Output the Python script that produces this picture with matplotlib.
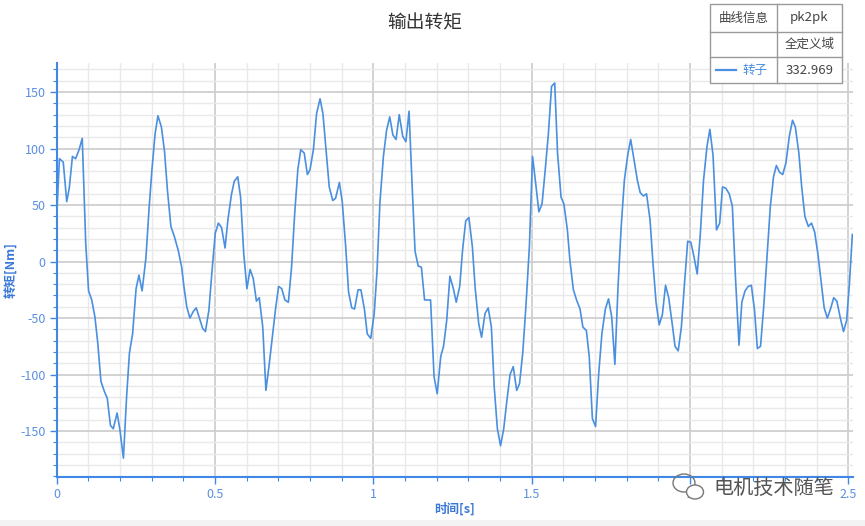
import matplotlib
matplotlib.use("Agg")
import matplotlib.pyplot as plt
from matplotlib.patches import Rectangle, Ellipse
from matplotlib.lines import Line2D
from matplotlib.ticker import MultipleLocator, FixedLocator

plt.rcParams['font.family'] = ['Noto Sans CJK SC', 'DejaVu Sans']

title = "输出转矩"
x_label = "时间[s]"
y_label = "转矩[Nm]"
series_name = "转子"
table_header = ["曲线信息", "pk2pk"]
table_sub = ["", "全定义域"]
pk2pk_value = "332.969"
watermark = "电机技术随笔"

x_ticks = [0, 0.5, 1, 1.5, 2, 2.5]
x_tick_labels = ["0", "0.5", "1", "1.5", "2", "2.5"]
y_ticks = [-150, -100, -50, 0, 50, 100, 150]
y_tick_labels = ["-150", "-100", "-50", "0", "50", "100", "150"]

times = [
    0.000, 0.009, 0.021, 0.032, 0.040, 0.050, 0.060, 0.071, 0.081, 0.092,
    0.101, 0.111, 0.121, 0.130, 0.140, 0.151, 0.160, 0.170, 0.179, 0.191,
    0.200, 0.211, 0.221, 0.230, 0.240, 0.251, 0.260, 0.270, 0.282, 0.292,
    0.301, 0.311, 0.320, 0.331, 0.341, 0.350, 0.361, 0.372, 0.384, 0.395,
    0.402, 0.411, 0.421, 0.432, 0.441, 0.451, 0.461, 0.470, 0.481, 0.490,
    0.501, 0.511, 0.521, 0.532, 0.541, 0.552, 0.561, 0.572, 0.581, 0.591,
    0.601, 0.611, 0.621, 0.631, 0.640, 0.651, 0.661, 0.671, 0.680, 0.691,
    0.701, 0.711, 0.721, 0.732, 0.742, 0.752, 0.762, 0.771, 0.782, 0.792,
    0.800, 0.811, 0.821, 0.832, 0.841, 0.851, 0.861, 0.872, 0.881, 0.893,
    0.902, 0.913, 0.922, 0.932, 0.941, 0.952, 0.961, 0.972, 0.981, 0.992,
    1.003, 1.012, 1.021, 1.032, 1.042, 1.052, 1.062, 1.072, 1.082, 1.093,
    1.103, 1.113, 1.122, 1.132, 1.142, 1.152, 1.162, 1.172, 1.181, 1.192,
    1.202, 1.213, 1.222, 1.232, 1.242, 1.253, 1.262, 1.273, 1.282, 1.292,
    1.302, 1.313, 1.322, 1.333, 1.342, 1.353, 1.363, 1.373, 1.382, 1.392,
    1.402, 1.412, 1.422, 1.432, 1.442, 1.453, 1.462, 1.472, 1.482, 1.493,
    1.503, 1.513, 1.523, 1.533, 1.543, 1.553, 1.563, 1.573, 1.582, 1.593,
    1.602, 1.613, 1.621, 1.632, 1.642, 1.653, 1.662, 1.673, 1.682, 1.692,
    1.702, 1.712, 1.722, 1.733, 1.743, 1.753, 1.763, 1.773, 1.783, 1.793,
    1.804, 1.813, 1.823, 1.834, 1.843, 1.853, 1.863, 1.874, 1.883, 1.893,
    1.903, 1.913, 1.923, 1.933, 1.944, 1.953, 1.963, 1.973, 1.983, 1.993,
    2.003, 2.013, 2.023, 2.033, 2.043, 2.054, 2.063, 2.073, 2.084, 2.094,
    2.103, 2.113, 2.124, 2.134, 2.144, 2.155, 2.164, 2.174, 2.184, 2.194,
    2.204, 2.213, 2.223, 2.233, 2.243, 2.254, 2.264, 2.273, 2.283, 2.293,
    2.303, 2.314, 2.324, 2.333, 2.344, 2.353, 2.363, 2.374, 2.384, 2.394,
    2.404, 2.415, 2.424, 2.434, 2.445, 2.454, 2.464, 2.475, 2.485, 2.495,
    2.504, 2.513,
]
torque = [
    38, 91, 88, 53, 65, 93, 91, 99, 109, 16,
    -26, -34, -49, -72, -106, -115, -121, -145, -148, -134,
    -149, -174, -120, -81, -64, -24, -12, -26, 3, 47,
    81, 113, 129, 119, 97, 63, 31, 22, 10, -5,
    -22, -40, -50, -44, -41, -50, -59, -62, -43, -11,
    25, 34, 30, 12, 37, 59, 71, 75, 57, 7,
    -24, -7, -15, -35, -32, -58, -114, -92, -70, -43,
    -22, -24, -34, -36, -5, 43, 82, 99, 96, 77,
    81, 99, 131, 144, 131, 99, 66, 54, 56, 70,
    53, 13, -27, -41, -42, -25, -25, -42, -64, -68,
    -46, -8, 52, 93, 116, 128, 112, 108, 130, 111,
    106, 133, 72, 9, -4, -5, -34, -34, -34, -102,
    -117, -84, -75, -52, -13, -24, -36, -22, 10, 36,
    39, 13, -24, -55, -67, -46, -41, -58, -111, -148,
    -163, -148, -123, -100, -93, -114, -108, -81, -40, 13,
    93, 69, 44, 51, 81, 113, 155, 158, 96, 57,
    51, 28, 1, -25, -34, -42, -58, -61, -84, -139,
    -146, -99, -64, -42, -33, -49, -91, -22, 31, 72,
    95, 108, 91, 72, 61, 58, 60, 37, 0, -36,
    -56, -47, -21, -32, -55, -75, -79, -58, -19, 18,
    17, 4, -11, 25, 72, 102, 117, 94, 28, 34,
    66, 65, 60, 49, -15, -74, -36, -26, -22, -21,
    -43, -77, -75, -40, 2, 49, 75, 85, 79, 77,
    87, 111, 125, 119, 96, 66, 40, 31, 34, 26,
    7, -19, -41, -50, -41, -32, -35, -50, -62, -52,
    -18, 24,
]

W, H = 865, 526
fig = plt.figure(figsize=(W / 100, H / 100), dpi=100)
fig.patch.set_facecolor("white")

# light bottom strip
fig.add_artist(Rectangle((0, 0), 1, 6 / H, transform=fig.transFigure,
                         facecolor="#f3f3f3", edgecolor="none", zorder=0))

left, right, top, bottom = 56.6, 853, 63, 476.7
ax = fig.add_axes([left / W, 1 - bottom / H, (right - left) / W, (bottom - top) / H])

line_color = "#4a8fe0"
axis_color = "#3f88e6"
tick_color = "#5b8fe0"

ax.plot(times, torque, color=line_color, lw=1.2, zorder=3)

ax.set_xlim(0, 2.515)
ax.set_ylim(-190.4, 175.7)

ax.xaxis.set_major_locator(FixedLocator(x_ticks))
ax.set_xticklabels(x_tick_labels)
ax.xaxis.set_minor_locator(MultipleLocator(0.1))
ax.yaxis.set_major_locator(FixedLocator(y_ticks))
ax.set_yticklabels(y_tick_labels)
ax.yaxis.set_minor_locator(MultipleLocator(10))

ax.grid(which="major", color="#cfcfcf", lw=1.3, zorder=1)
ax.grid(which="minor", color="#e9e9e9", lw=1.0, zorder=0.5)
ax.set_axisbelow(True)

for s in ["top", "right"]:
    ax.spines[s].set_visible(False)
for s in ["left", "bottom"]:
    ax.spines[s].set_color(axis_color)
    ax.spines[s].set_linewidth(1.5)

ax.tick_params(axis="both", which="major", colors=axis_color, length=5, width=1,
               labelcolor=tick_color, labelsize=9)
ax.tick_params(axis="both", which="minor", colors=axis_color, length=3, width=0.8)
ax.tick_params(axis="x", pad=3)
ax.tick_params(axis="y", pad=3)

ax.set_xlabel(x_label, color="#3a78d8", fontsize=9, fontweight="bold", labelpad=1)
ax.set_ylabel(y_label, color="#3a78d8", fontsize=9, fontweight="bold", labelpad=1)

fig.text(425 / W, 1 - 23 / H, title, ha="center", va="center", fontsize=13.5, color="#333333")

# info table (top right)
def fx(px):
    return px / W

def fy(py):
    return 1 - py / H

tx0, tx1, txm = 710, 842, 777
ty0, ty1, tym1, tym2 = 4.3, 83.3, 31.7, 57.3
fig.add_artist(Rectangle((fx(tx0), fy(ty1)), fx(tx1) - fx(tx0), fy(ty0) - fy(ty1),
                         transform=fig.transFigure, facecolor="white",
                         edgecolor="#9a9a9a", lw=1.0, zorder=5))
for yy in [tym1, tym2]:
    fig.add_artist(Line2D([fx(tx0), fx(tx1)], [fy(yy), fy(yy)], transform=fig.transFigure,
                          color="#9a9a9a", lw=1.0, zorder=6))
fig.add_artist(Line2D([fx(txm), fx(txm)], [fy(ty0), fy(ty1)], transform=fig.transFigure,
                      color="#9a9a9a", lw=1.0, zorder=6))

c1 = (tx0 + txm) / 2
c2 = (txm + tx1) / 2
r1 = (ty0 + tym1) / 2
r2 = (tym1 + tym2) / 2
r3 = (tym2 + ty1) / 2
tcol = "#444444"
fig.text(fx(c1), fy(r1), table_header[0], ha="center", va="center", fontsize=9, color=tcol, zorder=7)
fig.text(fx(c2), fy(r1), table_header[1], ha="center", va="center", fontsize=9.5, color=tcol, zorder=7)
fig.text(fx(c2), fy(r2), table_sub[1], ha="center", va="center", fontsize=9, color=tcol, zorder=7)
fig.add_artist(Line2D([fx(716), fx(736)], [fy(r3), fy(r3)], transform=fig.transFigure,
                      color=line_color, lw=1.6, zorder=7))
fig.text(fx(742), fy(r3), series_name, ha="left", va="center", fontsize=9, color=line_color, zorder=7)
fig.text(fx(c2), fy(r3), pk2pk_value, ha="center", va="center", fontsize=9.5, color=tcol, zorder=7)

# watermark
fig.add_artist(Ellipse((fx(684), fy(483)), 22 / W, 18 / H, transform=fig.transFigure,
                       facecolor="none", edgecolor="#777777", lw=1.0, zorder=8))
fig.add_artist(Ellipse((fx(695), fy(492)), 17 / W, 14 / H, transform=fig.transFigure,
                       facecolor="white", edgecolor="#777777", lw=1.0, zorder=8))
fig.text(fx(713), fy(488), watermark, ha="left", va="center", fontsize=14.5,
         color="#555555", zorder=8)

fig.savefig("out.png", dpi=100)
